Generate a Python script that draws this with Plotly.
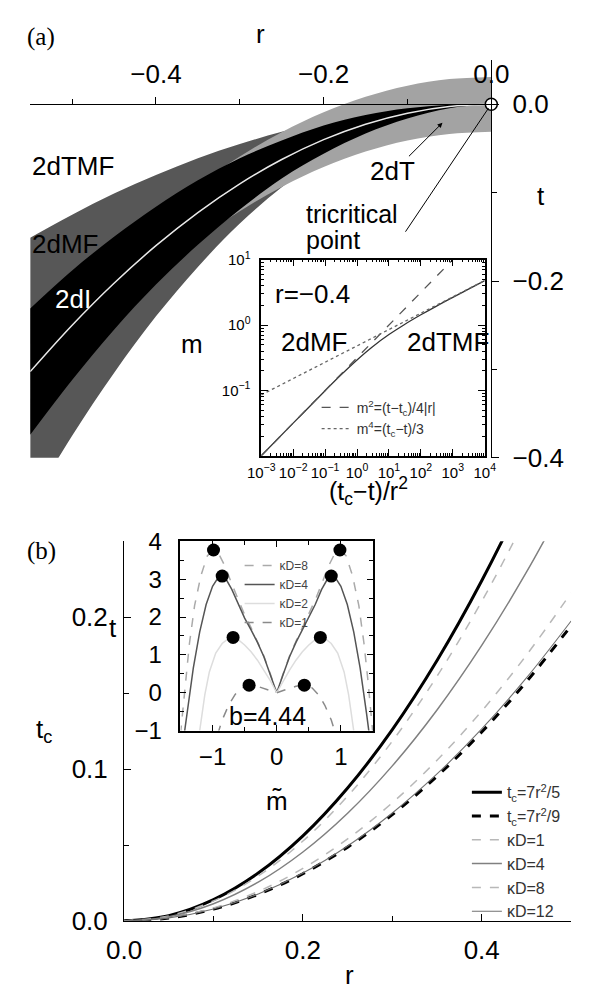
import plotly.graph_objects as go

W, H = 591, 1001
SANS = "Liberation Sans, Arial, sans-serif"
SERIF = "Liberation Serif, Times New Roman, serif"


def px(x):
    return x / W


def py(y):
    return 1 - y / H


# ---------------- panel (a): phase diagram bands ----------------
r_a = [-0.55, -0.5, -0.45, -0.4, -0.35, -0.3, -0.25, -0.2, -0.15, -0.1, -0.05, 0.0]
t_c_a = [-0.3025, -0.25, -0.2025, -0.16, -0.1225, -0.09, -0.0625, -0.04, -0.0225, -0.01, -0.0025, 0.0]
mf_top = [-0.151, -0.125, -0.101, -0.080, -0.061, -0.045, -0.031, -0.020, -0.011, -0.005, -0.001, 0.0]
mf_bot = [-0.454, -0.375, -0.304, -0.240, -0.184, -0.135, -0.094, -0.060, -0.034, -0.015, -0.004, 0.0]
tr_top = [-0.2715, -0.219, -0.1715, -0.129, -0.0915, -0.059, -0.0315, -0.009, 0.0085, 0.021, 0.0285, 0.031]
tr_bot = [-0.3335, -0.281, -0.2335, -0.191, -0.1535, -0.121, -0.0935, -0.071, -0.0535, -0.041, -0.0335, -0.031]
is_top = [-0.231, -0.188, -0.150, -0.116, -0.086, -0.061, -0.041, -0.024, -0.012, -0.0045, -0.0005, 0.0]
is_bot = [-0.374, -0.312, -0.255, -0.204, -0.159, -0.119, -0.084, -0.056, -0.033, -0.016, -0.0045, 0.0]
tcp_r = [0.0]
tcp_t = [0.0]

# ---------------- panel (a) inset: m vs (tc-t)/r^2 ----------------
u_sol = [1e-3, 1e-2, 1e-1, 0.3, 1, 3, 10, 30, 100, 300, 1e3, 3e3, 1e4]
m_sol = [0.010, 0.0316, 0.099, 0.169, 0.293, 0.463, 0.715, 1.013, 1.435, 1.935, 2.65, 3.52, 4.78]
u_mf = [1e-3, 1e3]
m_mf = [0.01, 10.0]
u_tmf = [1e-3, 1e4]
m_tmf = [0.0854, 4.80]

# ---------------- panel (b): t_c vs r ----------------
r_b = [0, 0.05, 0.1, 0.15, 0.2, 0.25, 0.3, 0.35, 0.4, 0.45, 0.5]
tc_75 = [0, 0.0035, 0.014, 0.0315, 0.056, 0.0875, 0.126, 0.1715, 0.224, 0.2835, 0.35]
tc_79 = [0, 0.0019, 0.0078, 0.0175, 0.0311, 0.0486, 0.070, 0.0953, 0.1244, 0.1575, 0.1944]
tc_k1 = [0, 0.0033, 0.0132, 0.0296, 0.0526, 0.0822, 0.1184, 0.1611, 0.2104, 0.2663, 0.3288]
tc_k4 = [0, 0.0028, 0.0113, 0.0255, 0.0454, 0.0709, 0.1021, 0.1389, 0.1814, 0.2296, 0.2835]
tc_k8 = [0, 0.0022, 0.0086, 0.0194, 0.0346, 0.054, 0.0778, 0.1058, 0.1382, 0.175, 0.216]
tc_k12 = [0, 0.002, 0.0079, 0.0178, 0.0316, 0.0494, 0.0711, 0.0968, 0.1264, 0.16, 0.1975]

# ---------------- panel (b) inset: t vs m~ (b=4.44), right half ----------------
m_k8 = [0, 0.1, 0.2, 0.3, 0.4, 0.5, 0.6, 0.7, 0.8, 0.9, 0.985, 1.08, 1.18, 1.28, 1.36, 1.42, 1.5]
t_k8 = [0, 0.5, 0.97, 1.36, 1.72, 2.06, 2.45, 2.87, 3.32, 3.66, 3.77, 3.62, 3.1, 2.3, 1.3, 0.35, -1.1]
m_k4 = [0, 0.1, 0.2, 0.3, 0.4, 0.5, 0.6, 0.7, 0.78, 0.85, 0.92, 1.0, 1.1, 1.2, 1.3, 1.4, 1.45]
t_k4 = [0, 0.48, 0.95, 1.33, 1.66, 1.97, 2.33, 2.73, 2.97, 3.08, 3.02, 2.81, 2.33, 1.61, 0.65, -0.55, -1.2]
m_k2 = [0, 0.1, 0.2, 0.3, 0.4, 0.5, 0.6, 0.68, 0.76, 0.85, 0.95, 1.05, 1.12, 1.2]
t_k2 = [0, 0.32, 0.6, 0.86, 1.08, 1.26, 1.4, 1.46, 1.42, 1.3, 1.05, 0.55, -0.05, -1.0]
m_k1 = [0, 0.1, 0.2, 0.3, 0.43, 0.55, 0.65, 0.75, 0.85, 0.92]
t_k1 = [0, 0.06, 0.12, 0.17, 0.2, 0.13, -0.05, -0.33, -0.72, -1.1]
peak_m = [0.985, 0.85, 0.68, 0.43]
peak_t = [3.77, 3.08, 1.46, 0.2]


def mirror(m, t):
    return [-v for v in m[::-1]] + m[1:], t[::-1] + t[1:]


fig = go.Figure()


# ---- panel (a) bands
def band(bot, top, color):
    fig.add_trace(go.Scatter(x=r_a, y=bot, mode="lines", line=dict(width=0, shape="spline"),
                             xaxis="x", yaxis="y", showlegend=False, hoverinfo="skip"))
    fig.add_trace(go.Scatter(x=r_a, y=top, mode="lines", line=dict(width=0, shape="spline"),
                             fill="tonexty", fillcolor=color, xaxis="x", yaxis="y",
                             showlegend=False, hoverinfo="skip"))


band(mf_bot, mf_top, "#575757")
band(tr_bot, tr_top, "#a3a3a3")
band(is_bot, is_top, "#000000")
fig.add_trace(go.Scatter(x=r_a, y=t_c_a, mode="lines", line=dict(color="#e8e8e8", width=1.5, shape="spline"),
                         xaxis="x", yaxis="y", showlegend=False, hoverinfo="skip"))
fig.add_trace(go.Scatter(x=tcp_r, y=tcp_t, mode="markers", cliponaxis=False,
                         marker=dict(size=12, color="white", line=dict(color="black", width=1.5)),
                         xaxis="x", yaxis="y", showlegend=False, hoverinfo="skip"))

# ---- panel (a) inset
fig.add_trace(go.Scatter(x=u_sol, y=m_sol, mode="lines", line=dict(color="#333", width=1.3, shape="spline"),
                         xaxis="x2", yaxis="y2", showlegend=False))
fig.add_trace(go.Scatter(x=u_mf, y=m_mf, mode="lines", line=dict(color="#555", width=1.3, dash="dash"),
                         xaxis="x2", yaxis="y2", name="m<sup>2</sup>=(t−t<sub>c</sub>)/4|r|", legend="legend3"))
fig.add_trace(go.Scatter(x=u_tmf, y=m_tmf, mode="lines", line=dict(color="#666", width=1.3, dash="dot"),
                         xaxis="x2", yaxis="y2", name="m<sup>4</sup>=(t<sub>c</sub>−t)/3", legend="legend3"))

# ---- panel (b) main curves (x3/y3)
main_b = [
    (tc_75, "t<sub>c</sub>=7r<sup>2</sup>/5", dict(color="black", width=3)),
    (tc_79, "t<sub>c</sub>=7r<sup>2</sup>/9", dict(color="black", width=3, dash="dash")),
    (tc_k1, "κD=1", dict(color="#b8b8b8", width=1.5, dash="dash")),
    (tc_k4, "κD=4", dict(color="#808080", width=1.5)),
    (tc_k8, "κD=8", dict(color="#b8b8b8", width=1.5, dash="dash")),
    (tc_k12, "κD=12", dict(color="#707070", width=1.1)),
]
for ys, nm, ln in main_b:
    ln["shape"] = "spline"
    fig.add_trace(go.Scatter(x=r_b, y=ys, mode="lines", line=ln, name=nm,
                             xaxis="x3", yaxis="y3", legend="legend"))

# ---- panel (b) inset curves (x4/y4, drawn above main panel)
inset_b = [
    (m_k8, t_k8, "κD=8", dict(color="#aaaaaa", width=1.5, dash="dash")),
    (m_k4, t_k4, "κD=4", dict(color="#555555", width=1.5)),
    (m_k2, t_k2, "κD=2", dict(color="#dddddd", width=1.5)),
    (m_k1, t_k1, "κD=1", dict(color="#8a8a8a", width=1.5, dash="dash")),
]
for mm, tt, nm, ln in inset_b:
    xm, ym = mirror(mm, tt)
    fig.add_trace(go.Scatter(x=xm, y=ym, mode="lines", line=ln, name=nm,
                             xaxis="x4", yaxis="y4", legend="legend2"))
dots_x = [-v for v in peak_m] + peak_m
dots_y = peak_t + peak_t
fig.add_trace(go.Scatter(x=dots_x, y=dots_y, mode="markers", marker=dict(size=13, color="black"),
                         xaxis="x4", yaxis="y4", showlegend=False, cliponaxis=False))

# ---------------- axes ----------------
tickfont = dict(family=SANS, size=26, color="black")
common = dict(showgrid=False, zeroline=False, showline=True, linecolor="black", tickcolor="black")

decade_minor_x = [k * 10.0 ** e for e in range(-3, 4) for k in range(2, 10)]
decade_minor_y = [k * 10.0 ** e for e in range(-2, 1) for k in range(2, 10)]

fig.update_layout(
    width=W, height=H, margin=dict(l=0, r=0, t=0, b=0),
    paper_bgcolor="white", plot_bgcolor="rgba(0,0,0,0)",
    xaxis=dict(**common, domain=[px(13), px(504)], range=[-0.55, 0], anchor="free", position=py(93),
               side="top", linewidth=1.2, ticks="outside", ticklen=7, tickwidth=1.2,
               tickvals=[-0.4, -0.2, 0.0], ticktext=["−0.4", "−0.2", "0.0"], tickfont=tickfont,
               ticklabelstandoff=4,
               minor=dict(tickvals=[-0.5, -0.3, -0.1], ticks="outside", ticklen=5, tickcolor="black")),
    yaxis=dict(**common, domain=[py(457), py(47.5)], range=[-0.4, 0.05], side="right", anchor="x",
               linewidth=1.2, ticks="outside", ticklen=7, tickwidth=1.2,
               tickvals=[0.0, -0.2, -0.4], ticktext=["0.0", "−0.2", "−0.4"], tickfont=tickfont,
               ticklabelstandoff=8,
               minor=dict(tickvals=[-0.1, -0.3], ticks="outside", ticklen=5, tickcolor="black")),
    xaxis2=dict(**common, type="log", domain=[px(259), px(497)], range=[-3, 4], anchor="y2",
                mirror="ticks", linewidth=1.5, ticks="inside", ticklen=7, tickangle=0,
                tickvals=[1e-3, 1e-2, 1e-1, 1, 10, 100, 1e3, 1e4],
                ticktext=["10<sup>−3</sup>", "10<sup>−2</sup>", "10<sup>−1</sup>", "10<sup>0</sup>",
                          "10<sup>1</sup>", "10<sup>2</sup>", "10<sup>3</sup>", "10<sup>4</sup>"],
                tickfont=dict(family=SANS, size=15, color="black"), ticklabelstandoff=2,
                minor=dict(tickvals=decade_minor_x, ticks="inside", ticklen=3, tickcolor="black")),
    yaxis2=dict(**common, type="log", domain=[py(455), py(253)], range=[-2, 1], anchor="x2",
                mirror="ticks", linewidth=1.5, ticks="inside", ticklen=7,
                tickvals=[1e-2, 1e-1, 1, 10],
                ticktext=["", "10<sup>−1</sup>", "10<sup>0</sup>", "10<sup>1</sup>"],
                tickfont=dict(family=SANS, size=15, color="black"), ticklabelstandoff=6,
                minor=dict(tickvals=decade_minor_y, ticks="inside", ticklen=3, tickcolor="black")),
    xaxis3=dict(**common, domain=[px(113), px(589)], range=[0, 0.5], anchor="y3",
                linewidth=1.2, ticks="inside", ticklen=7,
                tickvals=[0, 0.2, 0.4], ticktext=["0.0", "0.2", "0.4"], tickfont=tickfont,
                ticklabelstandoff=6,
                minor=dict(tickvals=[0.1, 0.3, 0.5], ticks="inside", ticklen=5, tickcolor="black")),
    yaxis3=dict(**common, domain=[py(934), py(543)], range=[0, 0.25], anchor="x3",
                linewidth=1.2, ticks="inside", ticklen=7,
                tickvals=[0, 0.1, 0.2], ticktext=["0.0", "0.1", "0.2"], tickfont=tickfont,
                ticklabelstandoff=10,
                minor=dict(tickvals=[0.05, 0.15, 0.25], ticks="inside", ticklen=5, tickcolor="black")),
    xaxis4=dict(**common, domain=[px(173), px(378)], range=[-1.5, 1.5], anchor="y4",
                mirror="ticks", linewidth=1.5, ticks="inside", ticklen=6,
                tickvals=[-1, 0, 1], ticktext=["−1", "0", "1"], tickfont=dict(family=SANS, size=24, color="black"),
                ticklabelstandoff=4,
                minor=dict(tickvals=[-0.5, 0.5], ticks="inside", ticklen=4, tickcolor="black")),
    yaxis4=dict(**common, domain=[py(738), py(543)], range=[-1, 4], anchor="x4",
                mirror="ticks", linewidth=1.5, ticks="inside", ticklen=6,
                tickvals=[-1, 0, 1, 2, 3, 4], ticktext=["−1", "0", "1", "2", "3", "4"],
                tickfont=dict(family=SANS, size=24, color="black"), ticklabelstandoff=12,
                minor=dict(tickvals=[-0.5, 0.5, 1.5, 2.5, 3.5], ticks="inside", ticklen=4, tickcolor="black")),
    legend=dict(x=px(478), y=py(784), xanchor="left", yanchor="top", bgcolor="rgba(0,0,0,0)",
                traceorder="normal", font=dict(family=SANS, size=16, color="#333"), itemwidth=30,
                tracegroupgap=0),
    legend2=dict(x=px(236), y=py(553), xanchor="left", yanchor="top", bgcolor="rgba(0,0,0,0)",
                 traceorder="normal", font=dict(family=SANS, size=12, color="#444"), itemwidth=30,
                 tracegroupgap=0),
    legend3=dict(x=px(318), y=py(389), xanchor="left", yanchor="top", bgcolor="rgba(0,0,0,0)",
                 traceorder="normal", font=dict(family=SANS, size=14, color="#333"), itemwidth=30,
                 tracegroupgap=0),
)


def txt(x, y, s, size=26, color="black", xanchor="center", family=SANS):
    return dict(x=px(x), y=py(y), xref="paper", yref="paper", text=s, showarrow=False,
                font=dict(family=family, size=size, color=color), xanchor=xanchor, yanchor="middle")


annotations = [
    txt(7, 24, "(a)", size=25, xanchor="left", family=SERIF),
    txt(258, 21, "r"),
    txt(557, 187, "t"),
    txt(13, 157, "2dTMF", xanchor="left"),
    txt(13, 237, "2dMF", xanchor="left"),
    txt(37, 293, "2dI", color="white", xanchor="left"),
    txt(373, 162, "2dT", xanchor="left"),
    txt(305, 206, "tricritical", size=25, xanchor="left"),
    txt(305, 233, "point", size=25, xanchor="left"),
    txt(185, 340, "m"),
    txt(272, 288, "r=−0.4", xanchor="left"),
    txt(278, 338, "2dMF", xanchor="left"),
    txt(412, 338, "2dTMF", xanchor="left"),
    txt(373, 491, "(t<sub>c</sub>−t)/r<sup>2</sup>", size=25),
    dict(x=px(452), y=py(112), xref="paper", yref="paper", text="", showarrow=True, ax=-35, ay=35,
         arrowhead=2, arrowsize=1, arrowwidth=1, arrowcolor="black"),
    dict(x=px(501), y=py(97), xref="paper", yref="paper", text="", showarrow=True, ax=-84, ay=125,
         arrowhead=0, arrowwidth=1, arrowcolor="black"),
    txt(7, 553, "(b)", size=25, xanchor="left", family=SERIF),
    txt(28, 738, "t<sub>c</sub>"),
    txt(101, 632, "t"),
    txt(276, 810, "m̃"),
    txt(353, 990, "r"),
    txt(266, 723, "b=4.44", size=25),
]
fig.update_layout(annotations=annotations)

fig.write_html("out.html")
